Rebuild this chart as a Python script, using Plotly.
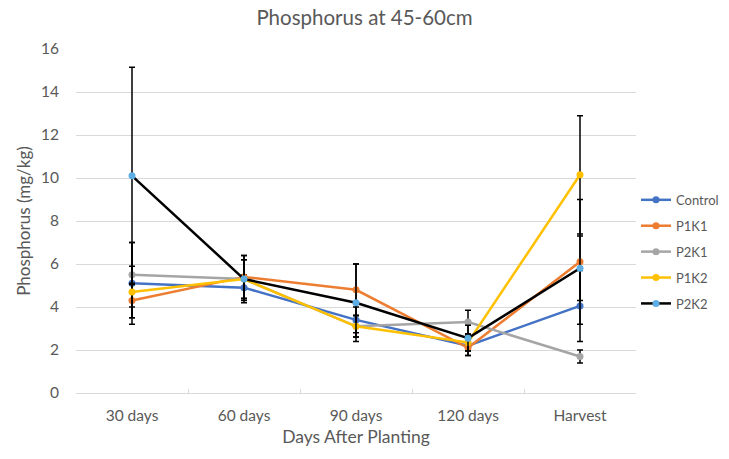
import plotly.graph_objects as go

categories = ["30 days", "60 days", "90 days", "120 days", "Harvest"]

control = [5.1, 4.9, 3.4, 2.2, 4.05]
p1k1 = [4.3, 5.4, 4.8, 2.1, 6.1]
p2k1 = [5.5, 5.3, 3.1, 3.3, 1.7]
p1k2 = [4.7, 5.3, 3.1, 2.35, 10.15]
p2k2 = [10.1, 5.3, 4.2, 2.55, 5.8]

control_err = [1.9, 0.6, 0.6, 0.45, 1.65]
p1k1_err = [0.8, 1.0, 1.2, 0.35, 2.9]
p2k1_err = [1.5, 0.9, 0.5, 0.55, 0.3]
p1k2_err = [1.2, 0.9, 0.5, 0.4, 2.75]
p2k2_err = [5.05, 1.1, 1.8, 0.6, 1.5]

series = [
    ("Control", control, control_err, "#4472C4", "#4472C4"),
    ("P1K1", p1k1, p1k1_err, "#ED7D31", "#ED7D31"),
    ("P2K1", p2k1, p2k1_err, "#A5A5A5", "#A5A5A5"),
    ("P1K2", p1k2, p1k2_err, "#FFC000", "#FFC000"),
    ("P2K2", p2k2, p2k2_err, "#000000", "#5FAEE3"),
]

fig = go.Figure()
for name, vals, errs, lc, mc in series:
    fig.add_trace(go.Scatter(
        x=categories, y=vals, name=name, mode="lines+markers",
        legendgroup=name,
        line=dict(color=lc, width=2.5),
        marker=dict(color=mc, size=7),
        error_y=dict(type="data", array=errs, visible=True,
                     color="#000000", thickness=1.5, width=3),
    ))

font_family = "Lato, 'Open Sans', sans-serif"
fig.update_layout(
    width=729, height=459,
    margin=dict(l=76, r=93, t=49, b=66, autoexpand=False),
    paper_bgcolor="white", plot_bgcolor="white",
    font=dict(family=font_family, color="#595959", size=13),
    title=dict(text="Phosphorus at 45-60cm", x=0.5, xanchor="center",
               y=0.962, yanchor="middle",
               font=dict(size=20.5, color="#595959", family=font_family)),
    legend=dict(x=1.0, xanchor="left", y=0.605, yanchor="top",
                tracegroupgap=6, itemwidth=30, font=dict(size=13, color="#595959"),
                bgcolor="rgba(0,0,0,0)"),
    showlegend=True,
)
fig.update_xaxes(
    type="category", range=[-0.5, 4.5], showgrid=False, showline=True,
    linecolor="#D9D9D9", linewidth=1, ticks="inside", tickson="boundaries",
    ticklen=4, tickcolor="#D9D9D9", ticklabelstandoff=8,
    title=dict(text="Days After Planting", font=dict(size=17.5, color="#595959"), standoff=8),
    tickfont=dict(size=15.5, color="#595959"),
)
fig.update_yaxes(
    range=[0, 16], dtick=2, showgrid=True, gridcolor="#D9D9D9", gridwidth=1,
    zeroline=False, showline=False, ticklabelstandoff=16,
    title=dict(text="Phosphorus (mg/kg)", font=dict(size=17, color="#595959"), standoff=6),
    tickfont=dict(size=15.5, color="#595959"),
)

fig.write_html("out.html")
